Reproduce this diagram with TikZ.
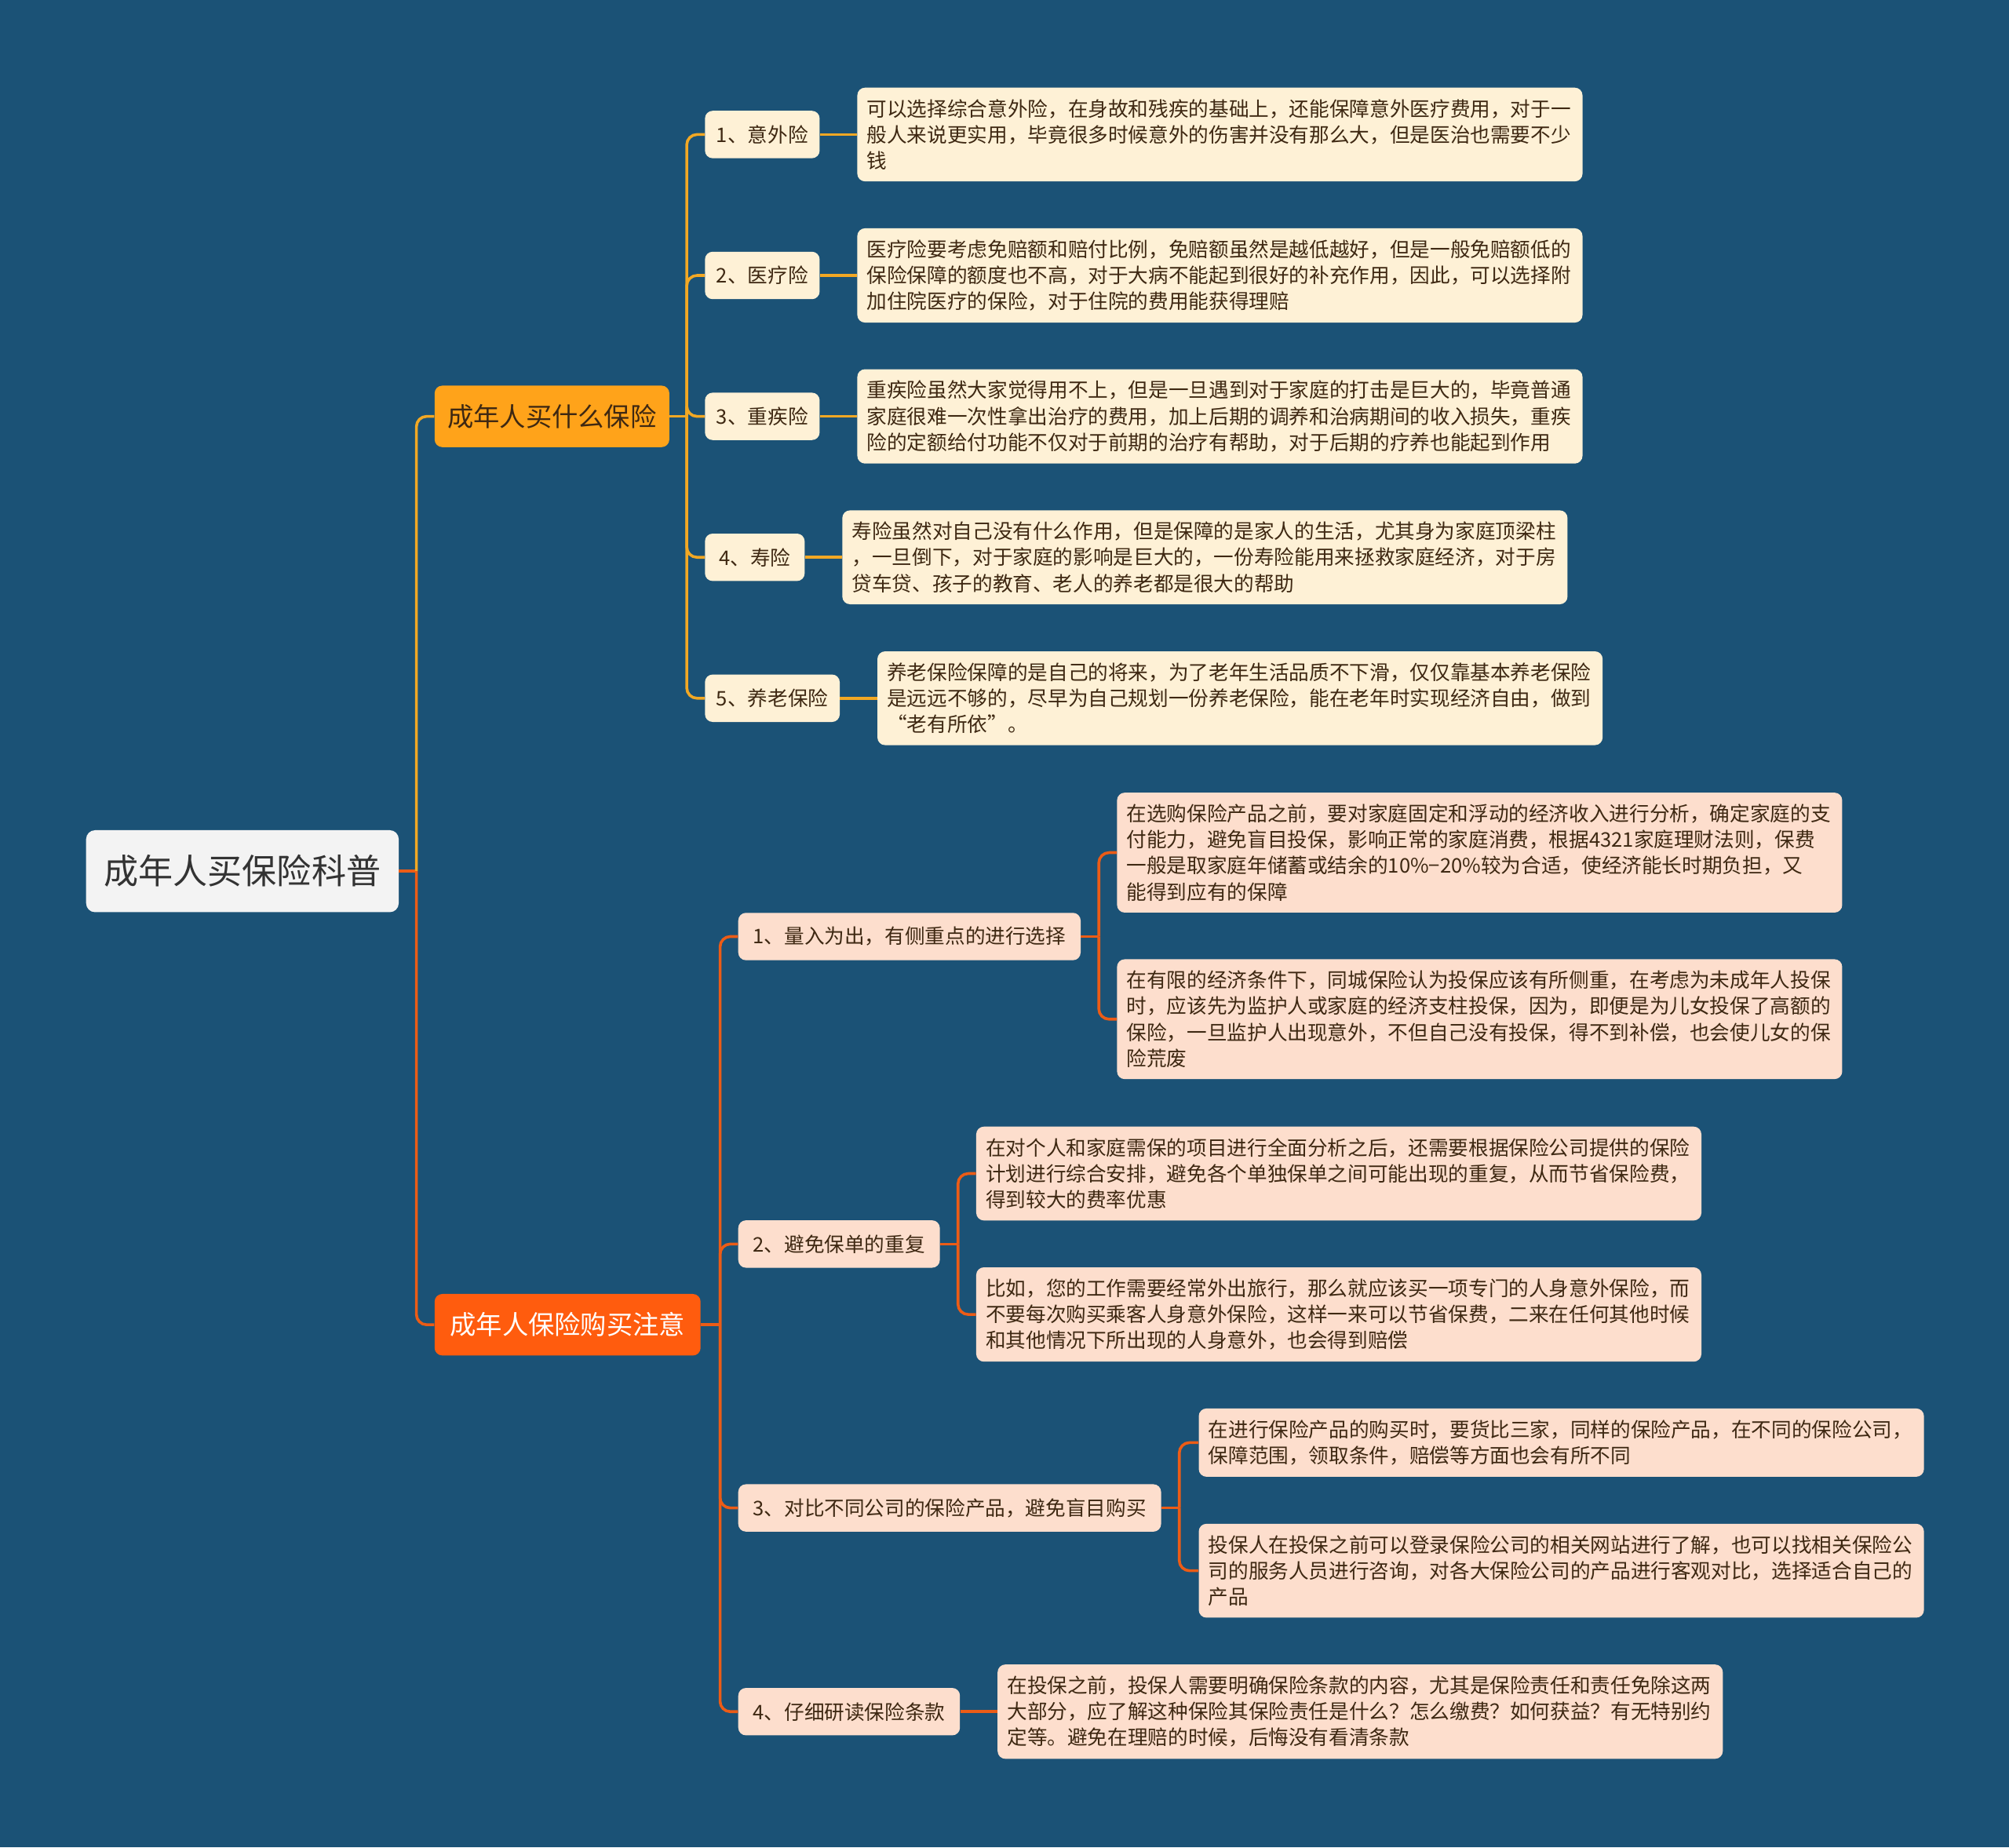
\documentclass[tikz,border=0pt]{standalone}
\usepackage{fontspec}
\setmainfont{Noto Sans CJK SC}
\usepackage{tikz}
\usetikzlibrary{positioning}
\definecolor{deepblue}{RGB}{27, 82, 118}
\definecolor{rootgray}{RGB}{243, 243, 243}
\definecolor{amber}{RGB}{255, 163, 26}
\definecolor{flame}{RGB}{255, 92, 14}
\definecolor{creamy}{RGB}{254, 241, 214}
\definecolor{peach}{RGB}{253, 222, 205}
\definecolor{amberline}{RGB}{242, 168, 36}
\definecolor{flameline}{RGB}{236, 92, 22}
\definecolor{inkbrown}{RGB}{62, 40, 18}
\definecolor{inkgray}{RGB}{51, 51, 51}
\tikzset{
  rootbox/.style={anchor=west, fill=rootgray, text=inkgray, rounded corners=7pt, minimum height=64pt, inner xsep=14pt, font=\fontsize{27}{32}\selectfont},
  branch_amber/.style={anchor=west, fill=amber, text=inkbrown, rounded corners=6pt, minimum height=48pt, inner xsep=10pt, font=\fontsize{20.4}{24}\selectfont},
  branch_flame/.style={branch_amber, fill=flame, text=white, inner xsep=12pt},
  item_cream/.style={anchor=west, fill=creamy, text=inkbrown, rounded corners=6pt, minimum height=37pt, inner xsep=9pt, font=\fontsize{15.7}{20.3}\selectfont},
  item_peach/.style={item_cream, fill=peach, inner xsep=11.5pt},
  leaf_cream/.style={item_cream, text width=551pt, align=left, inner xsep=7.5pt, inner ysep=9pt},
  leaf_peach/.style={leaf_cream, fill=peach},
  link_amber/.style={line width=2.2pt, amberline, rounded corners=8pt},
  link_flame/.style={link_amber, flameline}
}

\begin{document}
\begin{tikzpicture}[x=1pt, y=-1pt]
    \fill[deepblue] (0,0) rectangle (1568,1442);
    \useasboundingbox (0,0) rectangle (1568,1442);

    \node (root) [rootbox] at (67,680) {成年人买保险科普};
    \node (buy) [branch_amber] at (339,325) {成年人买什么保险};
    \node (tip) [branch_flame] at (339,1034) {成年人保险购买注意};
    \coordinate (rj) at (325,680);
    \draw[link_flame] (root.east) -- (rj);
    \draw[link_amber] (rj) |- (buy.west);
    \draw[link_flame] (rj) |- (tip.west);

    \node (a1) [item_cream] at (550,105) {1、意外险};
    \node (a2) [item_cream] at (550,215) {2、医疗险};
    \node (a3) [item_cream] at (550,325) {3、重疾险};
    \node (a4) [item_cream, inner xsep=11pt] at (550,435) {4、寿险};
    \node (a5) [item_cream] at (550,545) {5、养老保险};
    \node (n1) [leaf_cream, right=29pt of a1] {可以选择综合意外险，在身故和残疾的基础上，还能保障意外医疗费用，对于一\\般人来说更实用，毕竟很多时候意外的伤害并没有那么大，但是医治也需要不少\\钱};
    \node (n2) [leaf_cream, right=29pt of a2] {医疗险要考虑免赔额和赔付比例，免赔额虽然是越低越好，但是一般免赔额低的\\保险保障的额度也不高，对于大病不能起到很好的补充作用，因此，可以选择附\\加住院医疗的保险，对于住院的费用能获得理赔};
    \node (n3) [leaf_cream, right=29pt of a3] {重疾险虽然大家觉得用不上，但是一旦遇到对于家庭的打击是巨大的，毕竟普通\\家庭很难一次性拿出治疗的费用，加上后期的调养和治病期间的收入损失，重疾\\险的定额给付功能不仅对于前期的治疗有帮助，对于后期的疗养也能起到作用};
    \node (n4) [leaf_cream, right=29pt of a4] {寿险虽然对自己没有什么作用，但是保障的是家人的生活，尤其身为家庭顶梁柱\\，一旦倒下，对于家庭的影响是巨大的，一份寿险能用来拯救家庭经济，对于房\\贷车贷、孩子的教育、老人的养老都是很大的帮助};
    \node (n5) [leaf_cream, right=29pt of a5] {养老保险保障的是自己的将来，为了老年生活品质不下滑，仅仅靠基本养老保险\\是远远不够的，尽早为自己规划一份养老保险，能在老年时实现经济自由，做到\\“老有所依”。};
    \coordinate (aj) at (536,325);
    \draw[link_amber] (buy.east) -- (aj);
    \foreach \k in {1,...,5} {
        \draw[link_amber] (aj) |- (a\k.west);
        \draw[link_amber] (a\k.east) -- (n\k.west);
    }

    \node (b1) [item_peach] at (576,731) {1、量入为出，有侧重点的进行选择};
    \node (b2) [item_peach] at (576,971) {2、避免保单的重复};
    \node (b3) [item_peach] at (576,1177) {3、对比不同公司的保险产品，避免盲目购买};
    \node (b4) [item_peach] at (576,1336) {4、仔细研读保险条款};
    \node (m1) [leaf_peach, right=28pt of b1, yshift=65.5pt] {在选购保险产品之前，要对家庭固定和浮动的经济收入进行分析，确定家庭的支\\付能力，避免盲目投保，影响正常的家庭消费，根据4321家庭理财法则，保费\\一般是取家庭年储蓄或结余的10\%−20\%较为合适，使经济能长时期负担，又\\能得到应有的保障};
    \node (m2) [leaf_peach, right=28pt of b1, yshift=-64.5pt] {在有限的经济条件下，同城保险认为投保应该有所侧重，在考虑为未成年人投保\\时，应该先为监护人或家庭的经济支柱投保，因为，即便是为儿女投保了高额的\\保险，一旦监护人出现意外，不但自己没有投保，得不到补偿，也会使儿女的保\\险荒废};
    \node (m3) [leaf_peach, right=28pt of b2, yshift=55pt] {在对个人和家庭需保的项目进行全面分析之后，还需要根据保险公司提供的保险\\计划进行综合安排，避免各个单独保单之间可能出现的重复，从而节省保险费，\\得到较大的费率优惠};
    \node (m4) [leaf_peach, right=28pt of b2, yshift=-55pt] {比如，您的工作需要经常外出旅行，那么就应该买一项专门的人身意外保险，而\\不要每次购买乘客人身意外保险，这样一来可以节省保费，二来在任何其他时候\\和其他情况下所出现的人身意外，也会得到赔偿};
    \node (m5) [leaf_peach, right=29pt of b3, yshift=51pt] {在进行保险产品的购买时，要货比三家，同样的保险产品，在不同的保险公司，\\保障范围，领取条件，赔偿等方面也会有所不同};
    \node (m6) [leaf_peach, right=29pt of b3, yshift=-49pt] {投保人在投保之前可以登录保险公司的相关网站进行了解，也可以找相关保险公\\司的服务人员进行咨询，对各大保险公司的产品进行客观对比，选择适合自己的\\产品};
    \node (m7) [leaf_peach, right=29pt of b4] {在投保之前，投保人需要明确保险条款的内容，尤其是保险责任和责任免除这两\\大部分，应了解这种保险其保险责任是什么？怎么缴费？如何获益？有无特别约\\定等。避免在理赔的时候，后悔没有看清条款};
    \coordinate (tj) at (562,1034);
    \draw[link_flame] (tip.east) -- (tj);
    \foreach \k in {1,...,4}
        \draw[link_flame] (tj) |- (b\k.west);
    \draw[link_flame] (b1.east) -- ++(14,0) coordinate (bj1);
    \draw[link_flame] (b2.east) -- ++(14,0) coordinate (bj2);
    \draw[link_flame] (b3.east) -- ++(14,0) coordinate (bj3);
    \draw[link_flame] (bj1) |- (m1.west);
    \draw[link_flame] (bj1) |- (m2.west);
    \draw[link_flame] (bj2) |- (m3.west);
    \draw[link_flame] (bj2) |- (m4.west);
    \draw[link_flame] (bj3) |- (m5.west);
    \draw[link_flame] (bj3) |- (m6.west);
    \draw[link_flame] (b4.east) -- (m7.west);
\end{tikzpicture}
\end{document}
